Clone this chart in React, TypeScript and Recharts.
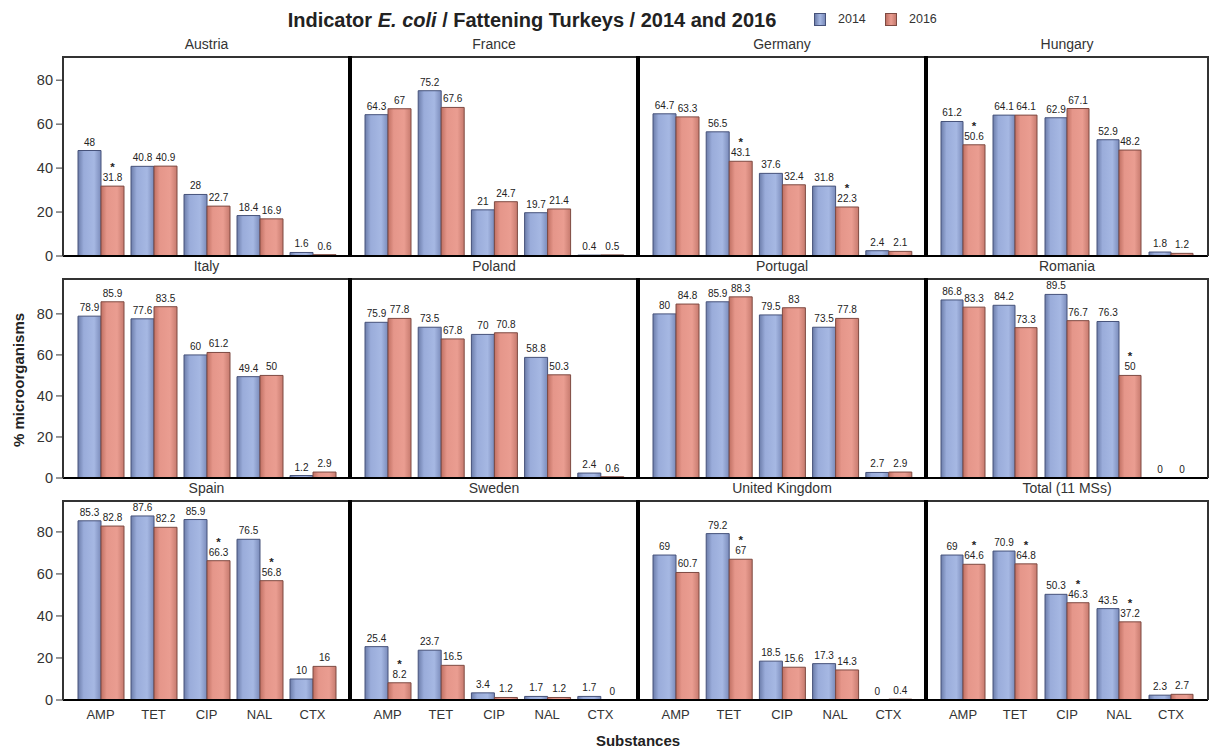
import React from 'react';
import { BarChart, Bar, XAxis, YAxis, Rectangle } from 'recharts';

const substances = ['AMP', 'TET', 'CIP', 'NAL', 'CTX'];
const yTicks = [0, 20, 40, 60, 80];
const rowMax = [91, 97.5, 95.2];

const austria2014 = [48, 40.8, 28, 18.4, 1.6];
const austria2016 = [31.8, 40.9, 22.7, 16.9, 0.6];
const austriaStars = ['AMP'];
const france2014 = [64.3, 75.2, 21, 19.7, 0.4];
const france2016 = [67, 67.6, 24.7, 21.4, 0.5];
const franceStars: string[] = [];
const germany2014 = [64.7, 56.5, 37.6, 31.8, 2.4];
const germany2016 = [63.3, 43.1, 32.4, 22.3, 2.1];
const germanyStars = ['TET', 'NAL'];
const hungary2014 = [61.2, 64.1, 62.9, 52.9, 1.8];
const hungary2016 = [50.6, 64.1, 67.1, 48.2, 1.2];
const hungaryStars = ['AMP'];
const italy2014 = [78.9, 77.6, 60, 49.4, 1.2];
const italy2016 = [85.9, 83.5, 61.2, 50, 2.9];
const italyStars: string[] = [];
const poland2014 = [75.9, 73.5, 70, 58.8, 2.4];
const poland2016 = [77.8, 67.8, 70.8, 50.3, 0.6];
const polandStars: string[] = [];
const portugal2014 = [80, 85.9, 79.5, 73.5, 2.7];
const portugal2016 = [84.8, 88.3, 83, 77.8, 2.9];
const portugalStars: string[] = [];
const romania2014 = [86.8, 84.2, 89.5, 76.3, 0];
const romania2016 = [83.3, 73.3, 76.7, 50, 0];
const romaniaStars = ['NAL'];
const spain2014 = [85.3, 87.6, 85.9, 76.5, 10];
const spain2016 = [82.8, 82.2, 66.3, 56.8, 16];
const spainStars = ['CIP', 'NAL'];
const sweden2014 = [25.4, 23.7, 3.4, 1.7, 1.7];
const sweden2016 = [8.2, 16.5, 1.2, 1.2, 0];
const swedenStars = ['AMP'];
const uk2014 = [69, 79.2, 18.5, 17.3, 0];
const uk2016 = [60.7, 67, 15.6, 14.3, 0.4];
const ukStars = ['TET'];
const total2014 = [69, 70.9, 50.3, 43.5, 2.3];
const total2016 = [64.6, 64.8, 46.3, 37.2, 2.7];
const totalStars = ['AMP', 'TET', 'CIP', 'NAL'];

const panels = [
  { name: 'Austria', a: austria2014, b: austria2016, stars: austriaStars },
  { name: 'France', a: france2014, b: france2016, stars: franceStars },
  { name: 'Germany', a: germany2014, b: germany2016, stars: germanyStars },
  { name: 'Hungary', a: hungary2014, b: hungary2016, stars: hungaryStars },
  { name: 'Italy', a: italy2014, b: italy2016, stars: italyStars },
  { name: 'Poland', a: poland2014, b: poland2016, stars: polandStars },
  { name: 'Portugal', a: portugal2014, b: portugal2016, stars: portugalStars },
  { name: 'Romania', a: romania2014, b: romania2016, stars: romaniaStars },
  { name: 'Spain', a: spain2014, b: spain2016, stars: spainStars },
  { name: 'Sweden', a: sweden2014, b: sweden2016, stars: swedenStars },
  { name: 'United Kingdom', a: uk2014, b: uk2016, stars: ukStars },
  { name: 'Total (11 MSs)', a: total2014, b: total2016, stars: totalStars },
];

const colLeft = [63, 350, 638, 926];
const colWidth = [287, 288, 288, 282];
const rowTop = [56, 278, 500];
const plotH = 200;
const yAxisW = 63;
const topPad = 24;
const font = 'Arial, "Liberation Sans", sans-serif';

// bar plus its value label (and the asterisk on flagged 2016 bars)
const barShape = (sp: any, key: 'a' | 'b') => {
  const val = sp.payload ? sp.payload[key] : sp.value;
  const cx = sp.x + sp.width / 2;
  const top = sp.y;
  const star = key === 'b' && sp.payload && sp.payload.star;
  return (
    <g>
      {sp.height > 0 ? <Rectangle {...sp} /> : null}
      <text x={cx} y={top - 5} textAnchor="middle" fontSize={10} fill="#222" fontFamily={font}>
        {String(val)}
      </text>
      {star ? (
        <text x={cx} y={top - 15} textAnchor="middle" fontSize={11.5} fontWeight="bold" fill="#222" fontFamily={font}>
          *
        </text>
      ) : null}
    </g>
  );
};

const Grad = () => (
  <defs>
    <linearGradient id="g14" x1="0" y1="0" x2="1" y2="0">
      <stop offset="0%" stopColor="#6C7DAA" />
      <stop offset="25%" stopColor="#9AACDA" />
      <stop offset="70%" stopColor="#A6B8E3" />
      <stop offset="100%" stopColor="#7A8BBA" />
    </linearGradient>
    <linearGradient id="g16" x1="0" y1="0" x2="1" y2="0">
      <stop offset="0%" stopColor="#C07063" />
      <stop offset="25%" stopColor="#E5968A" />
      <stop offset="70%" stopColor="#EA9D91" />
      <stop offset="100%" stopColor="#C67A6E" />
    </linearGradient>
  </defs>
);

const Panel = ({ idx }: { idx: number }) => {
  const p = panels[idx];
  const col = idx % 4;
  const row = Math.floor(idx / 4);
  const left = col === 0;
  const bottom = row === 2;
  const yw = left ? yAxisW : 0;
  const xh = bottom ? 30 : 12;
  const w = colWidth[col] + yw;
  const h = topPad + plotH + xh;
  const data = substances.map((s, i) => ({ s, a: p.a[i], b: p.b[i], star: p.stars.includes(s) }));
  return (
    <div style={{ position: 'absolute', left: colLeft[col] - yw, top: rowTop[row] - topPad, width: w, height: h }}>
      <BarChart width={w} height={h} data={data} margin={{ top: topPad, right: 0, bottom: 0, left: 0 }} barCategoryGap={4} barGap={0}>
        <Grad />
        <XAxis
          dataKey="s"
          padding={{ left: 11, right: 11 }}
          axisLine={{ stroke: '#000', strokeWidth: 2 }}
          tickLine={false}
          tickSize={6}
          tickMargin={4}
          interval={0}
          height={xh}
          tick={bottom ? { fontSize: 13, fill: '#333', fontFamily: font } : false}
        />
        <YAxis
          hide={!left}
          width={yw}
          domain={[0, rowMax[row]]}
          ticks={yTicks}
          axisLine={false}
          tickLine={{ stroke: '#333' }}
          tickSize={7}
          tickMargin={3}
          tick={{ fontSize: 14.5, fill: '#333', fontFamily: font }}
        />
        <Bar dataKey="a" fill="url(#g14)" stroke="#46527A" strokeWidth={1} isAnimationActive={false} shape={(sp: any) => barShape(sp, 'a')} />
        <Bar dataKey="b" fill="url(#g16)" stroke="#7E4A42" strokeWidth={1} isAnimationActive={false} shape={(sp: any) => barShape(sp, 'b')} />
      </BarChart>
    </div>
  );
};

const App = () => {
  const frames: React.ReactNode[] = [];
  rowTop.forEach((t, r) => {
    frames.push(<div key={'t' + r} style={{ position: 'absolute', left: 63, top: t, width: 1145, height: 1.5, background: '#333' }} />);
    frames.push(<div key={'l' + r} style={{ position: 'absolute', left: 62, top: t, width: 1.5, height: plotH, background: '#333' }} />);
    frames.push(<div key={'r' + r} style={{ position: 'absolute', left: 1207, top: t, width: 1.5, height: plotH, background: '#333' }} />);
    [350, 638, 926].forEach((x) => {
      frames.push(<div key={'s' + r + x} style={{ position: 'absolute', left: x - 2, top: t, width: 3.5, height: plotH, background: '#000' }} />);
    });
  });
  return (
    <div style={{ position: 'absolute', left: 0, top: 0, width: 1210, height: 751, background: '#fff', fontFamily: font, color: '#222' }}>
      <div style={{ position: 'absolute', left: 232, top: 9, width: 600, textAlign: 'center', fontSize: 20, fontWeight: 'bold', whiteSpace: 'nowrap' }}>
        Indicator <i>E. coli</i> / Fattening Turkeys / 2014 and 2016
      </div>
      <div style={{ position: 'absolute', left: 814, top: 13, width: 12, height: 13, border: '1px solid #46527A', background: 'linear-gradient(to right, #6C7DAA, #A6B8E3, #7A8BBA)', boxSizing: 'border-box' }} />
      <div style={{ position: 'absolute', left: 838, top: 12, fontSize: 12.5, color: '#333' }}>2014</div>
      <div style={{ position: 'absolute', left: 885, top: 13, width: 12, height: 13, border: '1px solid #7E4A42', background: 'linear-gradient(to right, #C07063, #EA9D91, #C67A6E)', boxSizing: 'border-box' }} />
      <div style={{ position: 'absolute', left: 909, top: 12, fontSize: 12.5, color: '#333' }}>2016</div>
      {panels.map((p, i) => (
        <div key={'h' + i} style={{ position: 'absolute', left: colLeft[i % 4], top: rowTop[Math.floor(i / 4)] - 20, width: colWidth[i % 4], textAlign: 'center', fontSize: 14, color: '#333' }}>
          {p.name}
        </div>
      ))}
      {panels.map((p, i) => <Panel key={i} idx={i} />)}
      {frames}
      <div style={{ position: 'absolute', left: 538, top: 732, width: 200, textAlign: 'center', fontSize: 15, fontWeight: 'bold' }}>Substances</div>
      <div style={{ position: 'absolute', left: 18, top: 380, transform: 'translate(-50%, -50%) rotate(-90deg)', fontSize: 15, fontWeight: 'bold', whiteSpace: 'nowrap' }}>
        % microorganisms
      </div>
    </div>
  );
};

export default App;
